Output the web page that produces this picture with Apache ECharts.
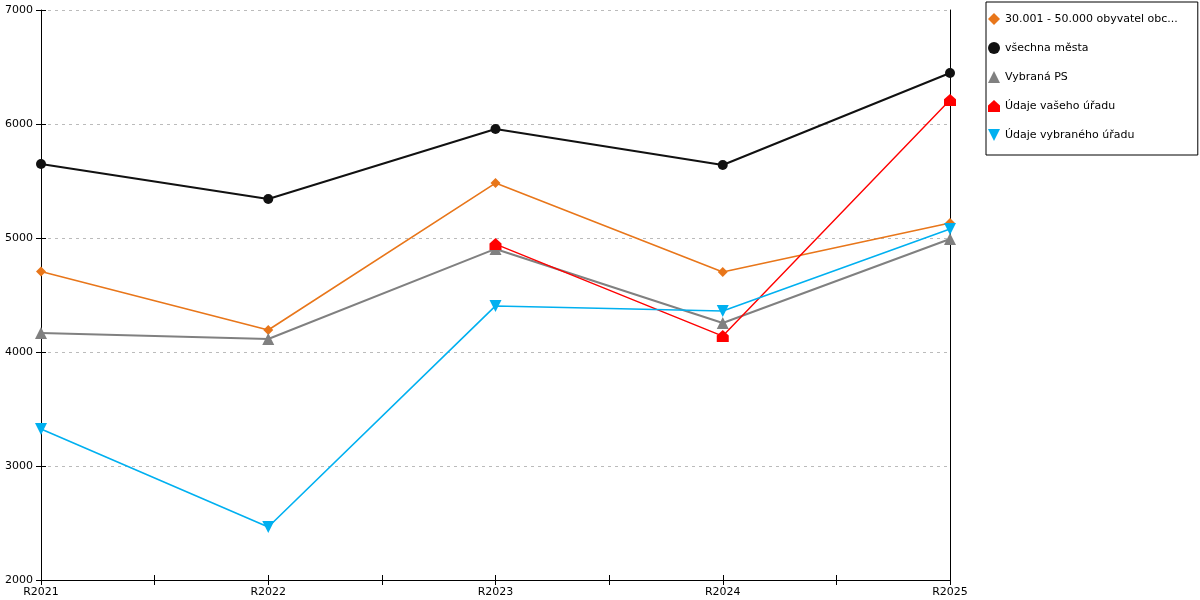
<!DOCTYPE html>
<html><head><meta charset="utf-8">
<script src="https://cdn.jsdelivr.net/npm/echarts@6/dist/echarts.min.js"></script>
<style>html,body{margin:0;padding:0;background:#fff}#c{width:1200px;height:600px}</style>
</head><body><div id="c"></div>
<script>
const categories = ['R2021','R2022','R2023','R2024','R2025'];
const yTicks = [2000,3000,4000,5000,6000,7000];
const seriesNames = ['30.001 - 50.000 obyvatel obce', 'všechna města', 'Vybraná PS', 'Údaje vašeho úřadu', 'Údaje vybraného úřadu'];
const legendLabels = ['30.001 - 50.000 obyvatel obc...', 'všechna města', 'Vybraná PS', 'Údaje vašeho úřadu', 'Údaje vybraného úřadu'];
const orangeVals = [4707, 4193, 5482, 4702, 5132];
const blackVals = [5649, 5342, 5956, 5640, 6447];
const grayVals = [4167, 4114, 4904, 4254, 4991];
const redVals = [null, null, 4947, 4140, 6211];
const blueVals = [3325, 2465, 4404, 4360, 5079];

const font = 'DejaVu Sans';
function pts(arr){ return arr.map((v,i)=> v==null ? null : [i,v]).filter(p=>p); }
const styles = [
  {color:'#E8761A', symbol:'diamond', size:10, width:1.6},
  {color:'#111111', symbol:'circle', size:10, width:2},
  {color:'#808080', symbol:'triangle', size:12, width:2},
  {color:'#FF0000', symbol:'path://M5,0 L10,4.5 L10,10 L0,10 L0,4.5 Z', size:12, width:1.4},
  {color:'#00B0F0', symbol:'path://M0,0 L10,0 L5,10 Z', size:12, width:1.6}
];
const valsList = [orangeVals, blackVals, grayVals, redVals, blueVals];
const yMin = yTicks[0], yMax = yTicks[yTicks.length-1];
const xMax = categories.length-1;

const chart = echarts.init(document.getElementById('c'));
chart.setOption({
  animation:false,
  textStyle:{fontFamily:font},
  grid:{left:41, right:250, top:10, bottom:20, containLabel:false},
  legend:{
    orient:'vertical', left:986, top:2,
    padding:[11,20,14,2], itemGap:17, itemWidth:12, itemHeight:12,
    borderColor:'#000', borderWidth:1,
    textStyle:{fontFamily:font, fontSize:11, color:'#000'},
    formatter: n => legendLabels[seriesNames.indexOf(n)],
    data: seriesNames.map((n,i)=>({name:n, icon:styles[i].symbol, itemStyle:{color:styles[i].color}}))
  },
  xAxis:[{
    type:'value', min:0, max:xMax, interval:0.5,
    axisLine:{show:true, onZero:false, lineStyle:{color:'#000'}},
    axisTick:{show:true, length:5, lineStyle:{color:'#000'}},
    axisLabel:{color:'#000', fontSize:11, fontFamily:font, margin:7,
      formatter:v=> Number.isInteger(v) ? categories[v] : ''},
    splitLine:{show:false}
  },{
    type:'value', min:0, max:xMax, interval:0.5, position:'bottom',
    axisLine:{show:false, onZero:false},
    axisTick:{show:true, inside:true, length:5, lineStyle:{color:'#000'}},
    axisLabel:{show:false}, splitLine:{show:false}
  }],
  yAxis:[{
    type:'value', min:yMin, max:yMax, interval:1000, position:'left',
    axisLine:{show:true, onZero:false, lineStyle:{color:'#000'}},
    axisTick:{show:true, length:5, lineStyle:{color:'#000'}},
    axisLabel:{color:'#000', fontSize:11, fontFamily:font, margin:8, formatter:v=>String(v)},
    splitLine:{show:true, lineStyle:{color:'#bbbbbb', type:[3,4], width:1}}
  },{
    type:'value', position:'right', min:yMin, max:yMax, interval:1000,
    axisLine:{show:true, onZero:false, lineStyle:{color:'#000'}},
    axisTick:{show:false}, axisLabel:{show:false}, splitLine:{show:false}
  },{
    type:'value', position:'left', min:yMin, max:yMax, interval:1000,
    axisLine:{show:false, onZero:false},
    axisTick:{show:true, inside:true, length:5, lineStyle:{color:'#000'}},
    axisLabel:{show:false}, splitLine:{show:false}
  }],
  series: seriesNames.map((n,i)=>({
    name:n, type:'line', data:pts(valsList[i]),
    symbol:styles[i].symbol, symbolSize:styles[i].size, showSymbol:true,
    lineStyle:{color:styles[i].color, width:styles[i].width},
    itemStyle:{color:styles[i].color},
    z: 2+i
  }))
});
</script></body></html>
